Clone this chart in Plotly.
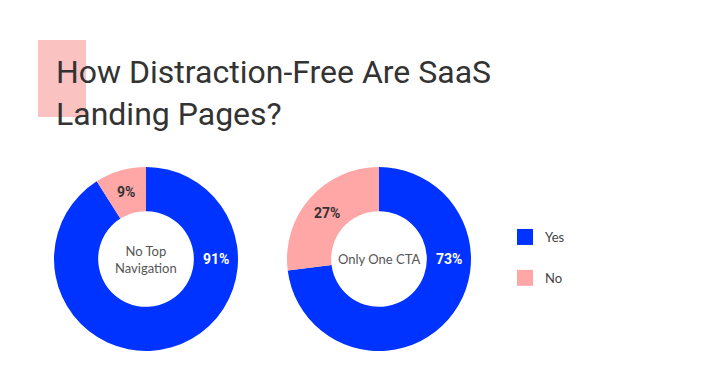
import math
import plotly.graph_objects as go

W, H = 711, 390

title_text = "How Distraction-Free Are SaaS<br>Landing Pages?"
categories = ["Yes", "No"]
nav_values = [91, 9]
cta_values = [73, 27]
chart_names = ["No Top<br>Navigation", "Only One CTA"]

BLUE = "#0033ff"
PINK = "#ffa6a6"
colors = [BLUE, PINK]
label_colors = ["white", "#333333"]

def px_x(v):
    return v / W

def px_y(v):
    return 1 - v / H

fig = go.Figure()

pie_boxes = [(54, 238, 167, 351), (287, 471, 167, 351)]
HOLE = 0.52
for vals, box, name in zip([nav_values, cta_values], pie_boxes, chart_names):
    x0, x1, y0, y1 = box
    fig.add_trace(go.Pie(
        labels=categories,
        values=vals,
        hole=HOLE,
        sort=False,
        direction="clockwise",
        rotation=0,
        marker=dict(colors=colors, line=dict(width=0)),
        textinfo="none",
        domain=dict(x=[px_x(x0), px_x(x1)], y=[px_y(y1), px_y(y0)]),
        showlegend=False,
        hoverinfo="label+percent",
    ))
    cx, cy = (x0 + x1) / 2, (y0 + y1) / 2
    fig.add_annotation(
        x=px_x(cx), y=px_y(cy), xref="paper", yref="paper",
        text=name, showarrow=False, font=dict(size=13, color="#555555", family="Lato"),
        xanchor="center", yanchor="middle",
    )
    R = (x1 - x0) / 2
    rmid = R * (1 + HOLE) / 2
    total = sum(vals)
    start = 0.0
    for v, lc in zip(vals, label_colors):
        span = 360.0 * v / total
        ang = start + span / 2 if span <= 180 else 90.0
        start += span
        lx = cx + rmid * math.sin(math.radians(ang))
        ly = cy - rmid * math.cos(math.radians(ang))
        fig.add_annotation(
            x=px_x(lx), y=px_y(ly), xref="paper", yref="paper",
            text="<b>%d%%</b>" % v, showarrow=False,
            font=dict(size=14, color=lc, family="Roboto"),
            xanchor="center", yanchor="middle",
        )

for cat, col in zip(categories, colors):
    fig.add_trace(go.Scatter(
        x=[None], y=[None], mode="markers", name=cat,
        marker=dict(symbol="square", size=20, color=col),
        legendgroup=cat, showlegend=True,
    ))

fig.add_shape(type="rect", xref="paper", yref="paper",
              x0=px_x(38), x1=px_x(86), y0=px_y(117), y1=px_y(40),
              fillcolor="#fbc2c2", line=dict(width=0), layer="below")

fig.update_layout(
    width=W, height=H,
    margin=dict(l=0, r=0, t=0, b=0),
    paper_bgcolor="white", plot_bgcolor="white",
    title=dict(text=title_text, x=px_x(56), xref="container", xanchor="left",
               y=px_y(83), yref="container", yanchor="top",
               font=dict(size=32, color="#333333", family="Roboto", weight=400)),
    xaxis=dict(visible=False), yaxis=dict(visible=False),
    legend=dict(x=px_x(505), y=px_y(222), xanchor="left", yanchor="top",
                font=dict(size=13, color="#444444", family="Lato"),
                tracegroupgap=21, itemsizing="trace"),
)

fig.write_html("out.html", config={"displayModeBar": False},
               post_script="document.body.style.margin='0';")
